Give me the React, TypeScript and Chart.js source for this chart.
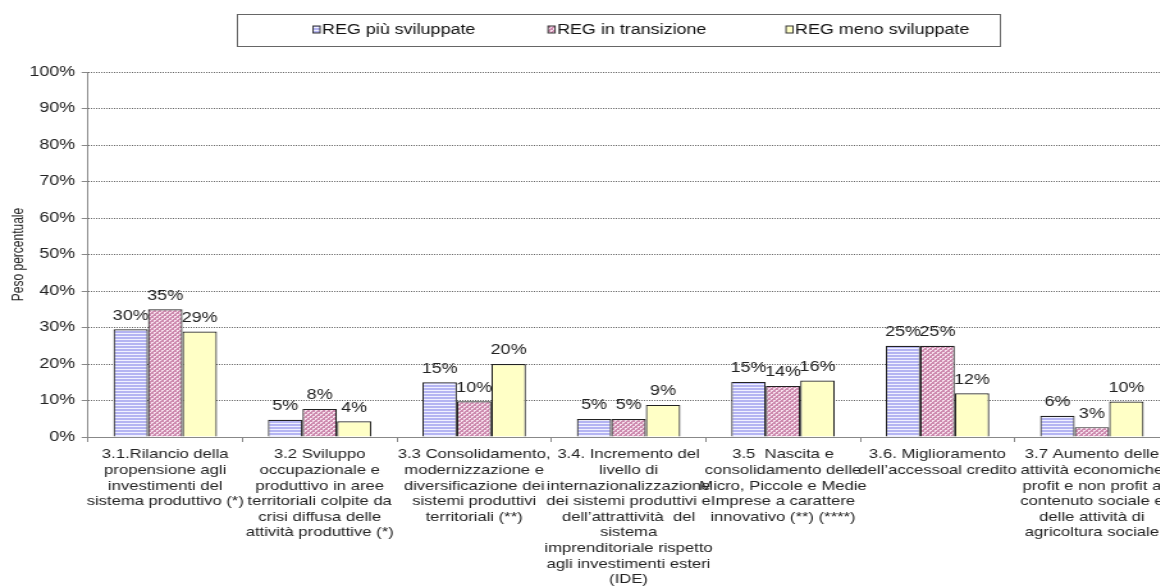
import React, { useEffect, useRef } from 'react';
import { Chart, registerables } from 'chart.js';

Chart.register(...registerables);

// ---------- DATA ----------
const categories: string[][] = [
  ['3.1.Rilancio della', 'propensione agli', 'investimenti del', 'sistema produttivo (*)'],
  ['3.2 Sviluppo', 'occupazionale e', 'produttivo in aree', 'territoriali colpite da', 'crisi diffusa delle', 'attività produttive (*)'],
  ['3.3 Consolidamento,', 'modernizzazione e', 'diversificazione dei', 'sistemi produttivi', 'territoriali (**)'],
  ['3.4. Incremento del', 'livello di', 'internazionalizzazione', 'dei sistemi produttivi e', 'dell’attrattività  del', 'sistema', 'imprenditoriale rispetto', 'agli investimenti esteri', '(IDE)'],
  ['3.5  Nascita e', 'consolidamento delle', 'Micro, Piccole e Medie', 'Imprese a carattere', 'innovativo (**) (****)'],
  ['3.6. Miglioramento', 'dell’accessoal credito'],
  ['3.7 Aumento delle', 'attività economiche', 'profit e non profit a', 'contenuto sociale e', 'delle attività di', 'agricoltura sociale'],
];
const seriesNames = ['REG più sviluppate', 'REG in transizione', 'REG meno sviluppate'];
const piuSviluppate = [29.5, 4.7, 15.0, 4.9, 15.1, 25.0, 5.8];
const inTransizione = [35.0, 7.7, 9.8, 4.9, 14.0, 25.0, 2.7];
const menoSviluppate = [28.9, 4.3, 20.0, 8.8, 15.5, 12.0, 9.7];
const yMin = 0;
const yMax = 100;
const yStep = 10;
const yTitle = 'Peso percentuale';

// ---------- LAYOUT ----------
const SX = 1.28; // horizontal stretch of the reference
const W = 914;
const H = 586;
const FONT = 'Liberation Sans, Arial, Helvetica, sans-serif';

function makePattern(ctx: CanvasRenderingContext2D, kind: string): CanvasPattern | string {
  const c = document.createElement('canvas');
  const g = c.getContext('2d');
  if (!g) return '#ccc';
  if (kind === 'stripes') {
    c.width = 4; c.height = 3;
    g.fillStyle = '#B4B4F2';
    g.fillRect(0, 0, 4, 3);
    g.fillStyle = '#F0F0FF';
    g.fillRect(0, 0, 4, 1);
  } else if (kind === 'dots') {
    c.width = 4; c.height = 4;
    g.fillStyle = '#CD8AAE';
    g.fillRect(0, 0, 4, 4);
    g.fillStyle = '#F7E2EE';
    g.fillRect(0, 0, 2, 1);
    g.fillRect(0, 1, 1, 1);
    g.fillRect(2, 2, 2, 1);
    g.fillRect(2, 3, 1, 1);
  } else {
    return '#FFFFC6';
  }
  return ctx.createPattern(c, 'repeat') || '#ccc';
}

export default function App() {
  const ref = useRef<HTMLCanvasElement>(null);

  useEffect(() => {
    const canvas = ref.current;
    if (!canvas) return;
    const ctx0 = canvas.getContext('2d');
    if (!ctx0) return;
    const fills = [makePattern(ctx0, 'stripes'), makePattern(ctx0, 'dots'), makePattern(ctx0, 'plain')];
    const seriesData = [piuSviluppate, inTransizione, menoSviluppate];

    const legendPlugin = {
      id: 'boxLegend',
      afterDraw(chart: any) {
        const ctx = chart.ctx as CanvasRenderingContext2D;
        ctx.save();
        const bx = 237 / SX, bw = (1000 - 237) / SX;
        ctx.fillStyle = '#fff';
        ctx.fillRect(bx, 14, bw, 32);
        ctx.strokeStyle = '#666';
        ctx.lineWidth = 1;
        ctx.strokeRect(Math.round(bx) + 0.5, 14.5, Math.round(bw), 32);
        const xs = [313, 548, 786];
        ctx.font = `14px ${FONT}`;
        ctx.textBaseline = 'middle';
        ctx.textAlign = 'left';
        seriesNames.forEach((name, i) => {
          const x = xs[i] / SX;
          ctx.fillStyle = fills[i] as any;
          ctx.fillRect(x, 26, 7 / SX, 7);
          ctx.strokeStyle = '#333';
          ctx.strokeRect(x, 26, 7 / SX, 7);
          ctx.fillStyle = '#111';
          ctx.fillText(name, x + 9 / SX, 30.5);
        });
        ctx.restore();
      },
    };

    const valueLabels = {
      id: 'valueLabels',
      afterDatasetsDraw(chart: any) {
        const ctx = chart.ctx as CanvasRenderingContext2D;
        ctx.save();
        ctx.font = `14px ${FONT}`;
        ctx.fillStyle = '#222';
        ctx.textAlign = 'center';
        ctx.textBaseline = 'middle';
        chart.data.datasets.forEach((ds: any, di: number) => {
          const meta = chart.getDatasetMeta(di);
          meta.data.forEach((bar: any, i: number) => {
            const v = ds.data[i] as number;
            ctx.fillText(`${Math.round(v)}%`, bar.x, bar.y - 13.5);
          });
        });
        ctx.restore();
      },
    };

    const chart = new Chart(canvas, {
      type: 'bar',
      data: {
        labels: categories,
        datasets: seriesNames.map((name, i) => ({
          label: name,
          data: seriesData[i],
          backgroundColor: fills[i] as any,
          borderColor: '#222',
          borderWidth: 1.2,
          categoryPercentage: 0.67,
          barPercentage: 1.0,
        })),
      },
      options: {
        responsive: false,
        maintainAspectRatio: false,
        animation: false,
        devicePixelRatio: 1,
        layout: { padding: { top: 72, left: 0, right: 0, bottom: 0 } },
        plugins: {
          legend: { display: false },
          tooltip: { enabled: false },
          title: { display: false },
        },
        scales: {
          x: {
            grid: {
              display: true,
              drawOnChartArea: false,
              drawTicks: true,
              tickLength: 5,
              color: '#888',
              offset: true,
            },
            border: { display: true, color: '#888', width: 1 },
            ticks: {
              autoSkip: false,
              maxRotation: 0,
              minRotation: 0,
              padding: 5,
              color: '#222',
              font: { family: FONT, size: 13 },
            },
            afterFit: (s: any) => { s.height = H - 437; },
          },
          y: {
            min: yMin,
            max: yMax,
            ticks: {
              stepSize: yStep,
              padding: 5,
              color: '#222',
              font: { family: FONT, size: 14 },
              callback: (v: any) => `${v}%`,
            },
            grid: {
              color: (c: any) => (c.tick && c.tick.value === 0 ? 'rgba(0,0,0,0)' : '#666'),
              tickColor: '#888',
              tickLength: 5,
              tickBorderDash: [],
              drawTicks: true,
              lineWidth: 1,
            },
            border: { display: true, color: '#888', width: 1, dash: [1, 1] },
            title: {
              display: true,
              text: yTitle,
              color: '#222',
              font: { family: FONT, size: 12 },
              padding: { top: 7, bottom: 0 },
            },
            afterFit: (s: any) => { s.width = 88 / SX; },
          },
        },
      },
      plugins: [legendPlugin, valueLabels],
    } as any);

    return () => chart.destroy();
  }, []);

  return (
    <div style={{ position: 'absolute', left: 0, top: 0, width: 1160, height: 586, overflow: 'hidden', background: '#fff' }}>
      <canvas ref={ref} width={W} height={H} style={{ width: `${W * SX}px`, height: `${H}px`, display: 'block' }} />
    </div>
  );
}
